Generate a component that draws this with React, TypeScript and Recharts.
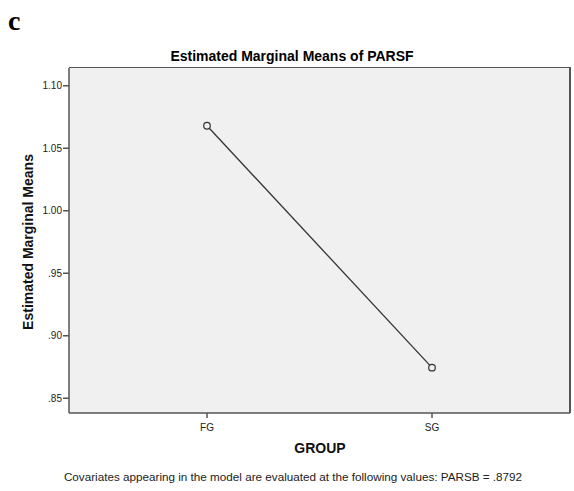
import { LineChart, Line, XAxis, YAxis, CartesianGrid, Label } from 'recharts'

const groups = ['FG', 'SG']
const means = [1.068, 0.8745]
const yTicks = [0.85, 0.9, 0.95, 1.0, 1.05, 1.1]

const data = groups.map((g, i) => ({ group: g, mean: means[i] }))

const Y_MIN = 0.8382
const Y_MAX = 1.1142
const FONT = '"Liberation Sans", Arial, sans-serif'
const FRAME = '#555'

function fmt(v: number) {
  const s = v.toFixed(2)
  return v < 1 ? s.replace(/^0/, '') : s
}

export default function App() {
  return (
    <div style={{ position: 'absolute', left: 0, top: 0, width: 574, height: 491, background: '#fff', fontFamily: FONT }}>
      <div style={{ position: 'absolute', left: 8, top: 5, fontFamily: '"Liberation Serif", "Times New Roman", serif', fontWeight: 'bold', fontSize: 28 }}>
        c
      </div>
      <div style={{ position: 'absolute', left: 0, width: 584, top: 48, textAlign: 'center', fontWeight: 'bold', fontSize: 14 }}>
        Estimated Marginal Means of PARSF
      </div>
      <LineChart width={574} height={491} data={data} margin={{ top: 68, right: 4, bottom: 48, left: 0 }}>
        <CartesianGrid fill="#f0f0f0" fillOpacity={1} horizontal={false} vertical={false} />
        <XAxis
          dataKey="group"
          padding={{ left: 138, right: 138 }}
          height={30}
          tickSize={5}
          tickMargin={6}
          stroke={FRAME}
          strokeWidth={1.5}
          tick={{ fontSize: 10, fill: '#222', fontFamily: FONT }}
        >
          <Label
            content={() => (
              <text x={320} y={448} textAnchor="middle" dominantBaseline="central" fontWeight="bold" fontSize={14} fontFamily={FONT} fill="#111">
                GROUP
              </text>
            )}
          />
        </XAxis>
        <YAxis
          type="number"
          domain={[Y_MIN, Y_MAX]}
          ticks={yTicks}
          tickFormatter={fmt}
          width={69}
          tickSize={6}
          tickMargin={1}
          stroke={FRAME}
          strokeWidth={1.5}
          tick={{ fontSize: 10, fill: '#222', fontFamily: FONT }}
        >
          <Label
            content={() => (
              <text x={28} y={242} transform="rotate(-90 28 242)" textAnchor="middle" dominantBaseline="central" fontWeight="bold" fontSize={14} fontFamily={FONT} fill="#111">
                Estimated Marginal Means
              </text>
            )}
          />
        </YAxis>
        <Line
          dataKey="mean"
          stroke="#333"
          strokeWidth={1.3}
          dot={{ r: 3.3, fill: '#f0f0f0', stroke: '#333', strokeWidth: 1.2 }}
          isAnimationActive={false}
        />
      </LineChart>
      {/* plot frame: top and right edges */}
      <div
        style={{
          position: 'absolute',
          left: 69,
          top: 67,
          width: 500,
          height: 345,
          borderTop: `1.5px solid ${FRAME}`,
          borderRight: `2px solid ${FRAME}`,
          pointerEvents: 'none',
        }}
      />
      <div style={{ position: 'absolute', left: 0, width: 586, top: 470, textAlign: 'center', fontSize: 11.7, color: '#222' }}>
        Covariates appearing in the model are evaluated at the following values: PARSB = .8792
      </div>
    </div>
  )
}
